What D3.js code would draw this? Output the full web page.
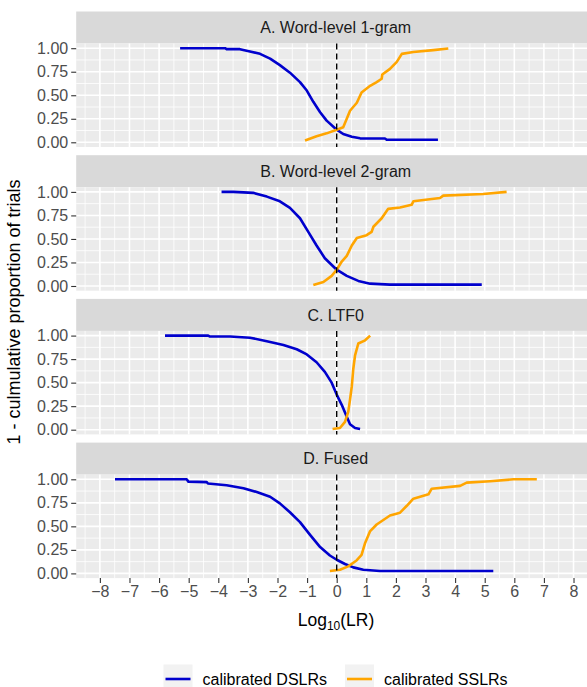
<!DOCTYPE html>
<html>
<head>
<meta charset="utf-8">
<script src="https://cdn.jsdelivr.net/npm/d3@7"></script>
<style>
  html, body { margin: 0; padding: 0; background: #fff; }
  svg { display: block; font-family: "Liberation Sans", Arial, sans-serif; }
</style>
</head>
<body>
<svg id="chart" width="587" height="687"></svg>
<script>
// ---------------- DATA ----------------
const panelTitles = ["A. Word-level 1-gram", "B. Word-level 2-gram", "C. LTF0", "D. Fused"];
const seriesNames = ["calibrated DSLRs", "calibrated SSLRs"];
const xTickValues = [-8, -7, -6, -5, -4, -3, -2, -1, 0, 1, 2, 3, 4, 5, 6, 7, 8];
const yTickValues = [0, 0.25, 0.5, 0.75, 1];
const yTickLabels = ["0.00", "0.25", "0.50", "0.75", "1.00"];

// [log10(LR), 1 - cumulative proportion]
const dslrA = [[-5.29,1.0],[-3.77,1.0],[-3.72,0.99],[-3.27,0.99],[-2.93,0.965],[-2.59,0.94],[-2.25,0.89],[-1.92,0.82],[-1.58,0.74],[-1.24,0.64],[-1.01,0.55],[-0.79,0.43],[-0.56,0.32],[-0.34,0.23],[0,0.134],[0.22,0.088],[0.51,0.06],[0.79,0.042],[1.63,0.04],[1.69,0.027],[3.42,0.027]];
const sslrA = [[-1.07,0.02],[-0.68,0.064],[-0.34,0.095],[0,0.134],[0.22,0.16],[0.34,0.25],[0.45,0.335],[0.68,0.42],[0.84,0.53],[1.13,0.60],[1.35,0.64],[1.52,0.675],[1.54,0.72],[1.80,0.78],[2.03,0.855],[2.20,0.94],[2.59,0.96],[3.26,0.98],[3.77,0.997]];
const dslrB = [[-3.89,1.0],[-3.49,1.0],[-2.82,0.99],[-2.36,0.95],[-1.92,0.90],[-1.58,0.83],[-1.24,0.72],[-0.96,0.575],[-0.68,0.43],[-0.40,0.295],[0,0.173],[0.34,0.108],[0.73,0.054],[1.13,0.025],[1.80,0.015],[4.90,0.015]];
const sslrB = [[-0.79,0.01],[-0.45,0.043],[-0.17,0.108],[0,0.173],[0.17,0.26],[0.34,0.32],[0.51,0.43],[0.68,0.51],[1.01,0.54],[1.18,0.575],[1.24,0.63],[1.52,0.72],[1.74,0.82],[2.14,0.834],[2.53,0.863],[2.59,0.90],[3.49,0.935],[3.60,0.96],[4.95,0.977],[5.74,1.0]];
const dslrC = [[-5.80,1.0],[-4.34,1.0],[-4.28,0.99],[-3.60,0.99],[-2.93,0.978],[-2.36,0.94],[-1.80,0.90],[-1.35,0.855],[-1.01,0.80],[-0.68,0.717],[-0.40,0.615],[-0.17,0.50],[0,0.373],[0.17,0.264],[0.34,0.137],[0.45,0.058],[0.62,0.018],[0.79,0.007]];
const sslrC = [[-0.14,0.007],[0.11,0.018],[0.28,0.083],[0.39,0.19],[0.45,0.32],[0.51,0.46],[0.56,0.645],[0.62,0.79],[0.73,0.916],[0.96,0.95],[1.13,1.0]];
const dslrD = [[-7.49,1.0],[-5.07,1.0],[-5.01,0.975],[-4.39,0.97],[-4.35,0.955],[-3.72,0.936],[-3.15,0.905],[-2.70,0.865],[-2.25,0.815],[-1.92,0.744],[-1.58,0.65],[-1.24,0.545],[-0.90,0.41],[-0.56,0.28],[-0.23,0.19],[0,0.145],[0.28,0.10],[0.56,0.064],[0.90,0.039],[1.46,0.025],[5.29,0.025]];
const sslrD = [[-0.23,0.025],[0.11,0.039],[0.39,0.075],[0.68,0.14],[0.84,0.196],[0.96,0.324],[1.13,0.45],[1.35,0.52],[1.80,0.615],[2.14,0.645],[2.36,0.716],[2.59,0.794],[3.10,0.84],[3.21,0.90],[4.17,0.93],[4.39,0.965],[5.18,0.98],[5.97,1.0],[6.76,1.0]];

const panelSeries = [[dslrA, sslrA], [dslrB, sslrB], [dslrC, sslrC], [dslrD, sslrD]];
const seriesColors = ["#0000CD", "#FFA500"];

// ---------------- LAYOUT ----------------
const svg = d3.select("#chart");
const xDomain = [-8.8, 8.8];
const x = d3.scaleLinear().domain(xDomain).range([76.2, 597.2]);
const stripTop0 = 11.5, pitch = 143.7, stripH = 32, panelH = 103.5;
const xMinor = d3.range(-8.5, 8.6, 1);
const yMinor = [0.125, 0.375, 0.625, 0.875];
const smallFont = 16;

panelTitles.forEach((title, i) => {
  const sTop = stripTop0 + i * pitch;
  const pTop = sTop + stripH;
  const pBot = pTop + panelH;
  const y = d3.scaleLinear().domain([-0.05, 1.05]).range([pBot, pTop]);
  const g = svg.append("g");

  // strip
  g.append("rect").attr("x", x(xDomain[0])).attr("y", sTop)
    .attr("width", x(xDomain[1]) - x(xDomain[0])).attr("height", stripH).attr("fill", "#D9D9D9");
  g.append("text").attr("x", x(0) - 1).attr("y", sTop + stripH / 2).attr("dy", "0.36em")
    .attr("text-anchor", "middle").attr("font-size", smallFont).attr("fill", "#1A1A1A").text(title);

  // panel background
  g.append("rect").attr("x", x(xDomain[0])).attr("y", pTop)
    .attr("width", x(xDomain[1]) - x(xDomain[0])).attr("height", panelH).attr("fill", "#EBEBEB");

  // minor grid
  g.selectAll(".vminor").data(xMinor).join("line")
    .attr("x1", d => x(d)).attr("x2", d => x(d)).attr("y1", pTop).attr("y2", pBot)
    .attr("stroke", "#fff").attr("stroke-width", 0.8);
  g.selectAll(".hminor").data(yMinor).join("line")
    .attr("x1", x(xDomain[0])).attr("x2", x(xDomain[1])).attr("y1", d => y(d)).attr("y2", d => y(d))
    .attr("stroke", "#fff").attr("stroke-width", 0.8);
  // major grid
  g.selectAll(".vmajor").data(xTickValues).join("line")
    .attr("x1", d => x(d)).attr("x2", d => x(d)).attr("y1", pTop).attr("y2", pBot)
    .attr("stroke", "#fff").attr("stroke-width", 1.6);
  g.selectAll(".hmajor").data(yTickValues).join("line")
    .attr("x1", x(xDomain[0])).attr("x2", x(xDomain[1])).attr("y1", d => y(d)).attr("y2", d => y(d))
    .attr("stroke", "#fff").attr("stroke-width", 1.6);

  // y axis
  const yAxis = d3.axisLeft(y).tickValues(yTickValues).tickFormat((d, k) => yTickLabels[k])
    .tickSize(5).tickPadding(3);
  const ya = g.append("g").attr("transform", `translate(${x(xDomain[0])},0)`).call(yAxis);
  ya.select(".domain").remove();
  ya.selectAll(".tick line").attr("stroke", "#333").attr("stroke-width", 1.1);
  ya.selectAll(".tick text").attr("fill", "#4D4D4D").attr("font-size", smallFont)
    .attr("font-family", "Liberation Sans, Arial, sans-serif");

  // x axis on bottom panel only
  if (i === panelTitles.length - 1) {
    const xAxis = d3.axisBottom(x).tickValues(xTickValues).tickFormat(d3.format("d"))
      .tickSize(5).tickPadding(3);
    const xa = g.append("g").attr("transform", `translate(0,${pBot})`).call(xAxis);
    xa.select(".domain").remove();
    xa.selectAll(".tick line").attr("stroke", "#333").attr("stroke-width", 1.1);
    xa.selectAll(".tick text").attr("fill", "#4D4D4D").attr("font-size", smallFont)
      .attr("font-family", "Liberation Sans, Arial, sans-serif");
  }

  // series lines
  const line = d3.line().x(d => x(d[0])).y(d => y(d[1]));
  panelSeries[i].forEach((series, s) => {
    g.append("path").datum(series).attr("d", line)
      .attr("fill", "none").attr("stroke", seriesColors[s]).attr("stroke-width", 2.6)
      .attr("stroke-linejoin", "round");
  });

  // dashed vertical line at 0
  g.append("line").attr("x1", x(0)).attr("x2", x(0)).attr("y1", pTop).attr("y2", pBot)
    .attr("stroke", "#000").attr("stroke-width", 1.4).attr("stroke-dasharray", "6,4");
});

// axis titles
svg.append("text").attr("transform", "translate(14,312) rotate(-90)")
  .attr("text-anchor", "middle").attr("dy", "0.36em").attr("font-size", 18).attr("fill", "#000")
  .text("1 - culmulative proportion of trials");

const xt = svg.append("text").attr("x", 336).attr("y", 626).attr("text-anchor", "middle")
  .attr("font-size", 17.5).attr("fill", "#000");
xt.append("tspan").text("Log");
xt.append("tspan").attr("font-size", 12).attr("dy", 4).text("10");
xt.append("tspan").attr("dy", -4).text("(LR)");

// legend
const legendX = [163.5, 345];
seriesNames.forEach((name, s) => {
  const lg = svg.append("g").attr("transform", `translate(${legendX[s]},664.5)`);
  lg.append("rect").attr("width", 29).attr("height", 29).attr("fill", "#F2F2F2");
  lg.append("line").attr("x1", 2).attr("x2", 27).attr("y1", 14.5).attr("y2", 14.5)
    .attr("stroke", seriesColors[s]).attr("stroke-width", 2.6);
  lg.append("text").attr("x", 39).attr("y", 14.5).attr("dy", "0.36em").attr("font-size", smallFont)
    .attr("fill", "#000").text(name);
});
</script>
</body>
</html>
